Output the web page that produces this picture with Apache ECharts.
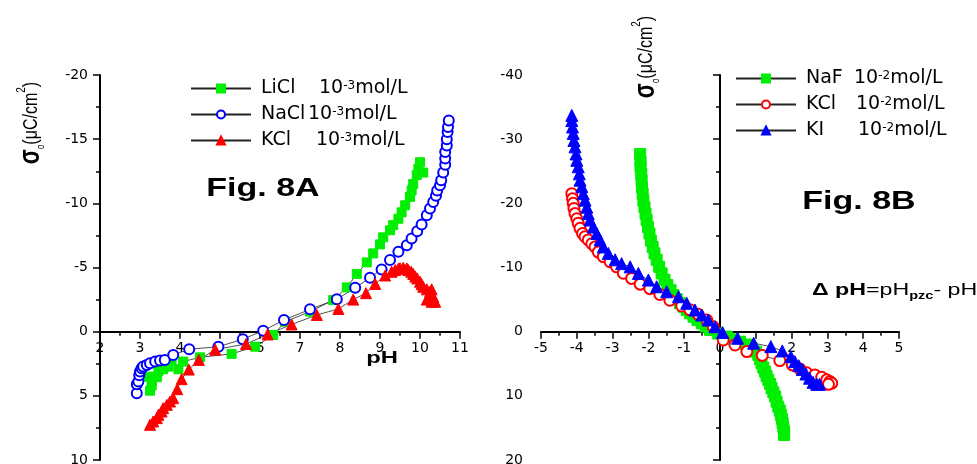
<!DOCTYPE html>
<html>
<head>
<meta charset="utf-8">
<script src="https://cdn.jsdelivr.net/npm/echarts@6/dist/echarts.min.js"></script>
<style>
  html, body { margin: 0; padding: 0; background: #fff; }
  #chart { width: 977px; height: 464px; }
</style>
</head>
<body>
<div id="chart"></div>
<script>
// Fig. 8A : surface charge vs pH (10^-3 mol/L)
var licl = [[3.25,4.6],[3.29,4.2],[3.3,3.9],[3.21,3.5],[3.42,3.55],[3.46,3.1],[3.58,2.93],[3.71,2.72],
  [3.79,2.2],[3.96,2.93],[4.08,2.33],[4.5,2.0],[5.29,1.73],[5.88,1.17],[6.33,0.26],[6.63,-0.78],
  [7.25,-1.56],[7.83,-2.46],[8.17,-3.45],[8.42,-4.5],[8.67,-5.4],[8.83,-6.1],[9.0,-6.8],[9.08,-7.35],
  [9.25,-7.9],[9.33,-8.3],[9.46,-8.8],[9.54,-9.3],[9.63,-9.85],[9.75,-10.5],[9.79,-11.0],[9.83,-11.5],
  [9.92,-12.2],[10.08,-12.4],[9.96,-12.7],[10.0,-13.2]];
var nacl = [[2.92,4.79],[2.92,4.1],[2.96,3.89],[2.98,3.4],[3.0,3.11],[3.04,2.85],[3.08,2.72],[3.17,2.59],
  [3.25,2.46],[3.38,2.33],[3.5,2.25],[3.62,2.2],[3.83,1.81],[4.23,1.37],[4.96,1.17],[5.57,0.59],
  [6.08,-0.08],[6.6,-0.91],[7.25,-1.74],[7.92,-2.52],[8.38,-3.42],[8.75,-4.2],[9.04,-4.85],[9.25,-5.58],
  [9.46,-6.22],[9.67,-6.74],[9.79,-7.26],[9.93,-7.83],[10.04,-8.35],[10.17,-9.07],[10.25,-9.6],
  [10.33,-10.1],[10.4,-10.6],[10.43,-11.0],[10.5,-11.4],[10.53,-11.8],[10.58,-12.4],[10.63,-13.0],
  [10.63,-13.5],[10.63,-14.0],[10.67,-14.5],[10.67,-15.0],[10.69,-15.55],[10.7,-15.95],[10.72,-16.46]];
var kclA = [[3.25,7.26],[3.33,7.0],[3.42,6.74],[3.46,6.48],[3.54,6.22],[3.58,5.96],[3.67,5.7],[3.75,5.44],
  [3.83,5.18],[3.93,4.48],[4.04,3.7],[4.22,2.95],[4.47,2.2],[4.88,1.4],[5.65,0.96],[6.19,0.22],
  [6.79,-0.56],[7.42,-1.3],[7.96,-1.77],[8.33,-2.5],[8.65,-3.0],[8.88,-3.72],[9.13,-4.38],[9.29,-4.67],
  [9.38,-4.8],[9.46,-4.9],[9.5,-4.95],[9.58,-4.98],[9.67,-4.93],[9.71,-4.8],[9.78,-4.67],[9.83,-4.5],
  [9.88,-4.3],[9.93,-4.15],[10.0,-3.89],[10.04,-3.7],[10.08,-3.5],[10.17,-3.3],[10.25,-3.1],
  [10.29,-3.3],[10.25,-2.72],[10.33,-2.72],[10.17,-2.5],[10.29,-2.33],[10.38,-2.33]];

// Fig. 8B : surface charge vs delta pH (10^-2 mol/L)
var naf = [[-2.23,-27.7],[-2.22,-26.5],[-2.22,-25.7],[-2.2,-24.6],[-2.19,-23.6],[-2.18,-22.5],[-2.16,-21.5],
  [-2.14,-20.4],[-2.11,-19.4],[-2.08,-18.4],[-2.05,-17.4],[-2.01,-16.3],[-1.97,-15.3],[-1.93,-14.2],
  [-1.88,-13.2],[-1.83,-12.2],[-1.77,-11.2],[-1.7,-10.1],[-1.63,-9.08],[-1.55,-8.1],[-1.47,-7.26],
  [-1.38,-6.45],[-1.3,-5.71],[-1.21,-5.05],[-1.12,-4.42],[-1.02,-3.9],[-0.93,-3.37],[-0.84,-2.85],
  [-0.74,-2.33],[-0.63,-1.8],[-0.51,-1.3],[-0.4,-0.8],[-0.28,-0.26],[-0.05,0.3],[0.19,0.78],[0.37,1.2],
  [0.56,1.56],[0.73,2.0],[0.89,2.59],[1.0,3.1],[1.07,3.63],[1.12,4.3],[1.16,4.92],[1.21,5.6],[1.26,6.22],
  [1.3,6.9],[1.35,7.51],[1.4,8.15],[1.44,8.8],[1.49,9.45],[1.54,10.1],[1.58,10.9],[1.63,11.7],
  [1.67,12.3],[1.7,12.95],[1.73,13.6],[1.75,14.25],[1.77,14.9],[1.79,15.55],[1.79,16.1]];
var kclB = [[-4.14,-21.5],[-4.12,-20.7],[-4.1,-20.0],[-4.08,-19.2],[-4.05,-18.4],[-4.0,-17.6],[-3.96,-16.9],
  [-3.91,-16.1],[-3.84,-15.3],[-3.77,-14.8],[-3.68,-14.3],[-3.58,-13.7],[-3.49,-13.2],[-3.4,-12.4],
  [-3.26,-11.7],[-3.07,-10.9],[-2.89,-10.1],[-2.7,-9.1],[-2.47,-8.3],[-2.23,-7.4],[-1.96,-6.7],
  [-1.68,-5.8],[-1.4,-4.9],[-1.07,-4.0],[-0.84,-3.4],[-0.61,-2.7],[-0.37,-1.82],[-0.19,-0.78],
  [0.09,1.29],[0.42,2.07],[0.75,3.11],[1.18,3.7],[1.67,4.5],[2.02,5.18],[2.23,5.8],[2.42,6.4],
  [2.65,6.74],[2.84,7.1],[2.98,7.51],[3.07,7.77],[3.12,8.03],[3.03,8.2]];
var ki = [[-4.14,-33.7],[-4.14,-32.9],[-4.12,-31.9],[-4.1,-30.9],[-4.08,-29.8],[-4.05,-28.8],[-4.02,-27.7],
  [-4.0,-26.7],[-3.96,-25.7],[-3.93,-24.6],[-3.91,-23.6],[-3.86,-22.6],[-3.82,-21.5],[-3.77,-20.5],
  [-3.72,-19.4],[-3.68,-18.4],[-3.63,-17.4],[-3.54,-16.3],[-3.44,-15.3],[-3.35,-14.3],[-3.26,-13.2],
  [-3.12,-12.2],[-2.93,-11.2],[-2.75,-10.6],[-2.51,-10.1],[-2.28,-9.08],[-2.0,-8.04],[-1.77,-7.0],
  [-1.49,-6.22],[-1.16,-5.44],[-0.93,-4.42],[-0.7,-3.37],[-0.51,-2.6],[-0.33,-1.82],[-0.14,-0.78],
  [0.07,0.13],[0.49,1.03],[0.94,1.8],[1.42,2.33],[1.74,3.0],[1.98,3.9],[2.09,4.67],[2.2,5.3],
  [2.3,5.9],[2.4,6.6],[2.5,7.25],[2.6,7.9],[2.7,8.2],[2.78,8.2]];

var namesA = ['LiCl', 'NaCl', 'KCl'];
var namesB = ['NaF', 'KCl', 'KI'];
var expA = '-3', expB = '-2';

var FONT = 'Liberation Sans';
var LABEL_FONT = 'DejaVu Sans';

// the x axes sit on sigma = 0, which is 2/3 of the way down both grids (385px tall)
var ZERO_OFFSET = -385 / 3;

function valueAxis(gridIndex, min, max, interval, opts) {
  return {
    gridIndex: gridIndex,
    type: 'value',
    min: min,
    max: max,
    interval: interval,
    inverse: !!opts.inverse,
    offset: opts.offset || 0,
    axisLine: { show: true, onZero: opts.onZero, lineStyle: { color: '#000', width: 2 } },
    axisTick: { show: true, inside: false, length: 7, lineStyle: { color: '#000', width: 1.5 } },
    minorTick: { show: true, splitNumber: 2, length: 4, lineStyle: { color: '#000', width: 1.5 } },
    axisLabel: { show: true, color: '#000', fontSize: 14, fontFamily: LABEL_FONT, margin: opts.margin,
      showMinLabel: true, showMaxLabel: true, hideOverlap: false },
    splitLine: { show: false },
    minorSplitLine: { show: false }
  };
}

function lineSeries(name, xi, yi, data, symbol, size, color) {
  return {
    name: name,
    type: 'line',
    xAxisIndex: xi,
    yAxisIndex: yi,
    data: data,
    symbol: symbol,
    symbolSize: size,
    showAllSymbol: true,
    lineStyle: { color: '#222', width: 0.8 },
    itemStyle: { color: color, borderColor: color, borderWidth: 1 },
    emphasis: { disabled: true },
    animation: false
  };
}

var LEG_FONT = 'DejaVu Sans';
function nameStyle(w) {
  return { fontSize: 19, fontFamily: LEG_FONT, color: '#000', lineHeight: 18, width: w, padding: [0, 0, 0, 5] };
}
var legendRich = {
  b: { fontSize: 19, fontFamily: LEG_FONT, color: '#000', lineHeight: 18 },
  s: { fontSize: 12, fontFamily: LEG_FONT, color: '#000', lineHeight: 12, verticalAlign: 'top' },
  nA0: nameStyle(58), nA1: nameStyle(47), nA2: nameStyle(55),
  nB0: nameStyle(48), nB1: nameStyle(50), nB2: nameStyle(52)
};

function legendFormatter(name) {
  var p = name.split(':');
  var list = p[0] === 'A' ? namesA : namesB;
  var exp = p[0] === 'A' ? expA : expB;
  var i = list.indexOf(p[1]);
  return '{n' + p[0] + i + '|' + p[1] + '}{b|10}{s|' + exp + '}{b|mol/L}';
}

function legendBox(names, panel, left, top) {
  return {
    show: true,
    orient: 'vertical',
    left: left,
    top: top,
    padding: 0,
    itemGap: 7,
    itemWidth: 60,
    itemHeight: 10,
    selectedMode: false,
    data: names.map(function (n) { return panel + ':' + n; }),
    formatter: legendFormatter,
    textStyle: { color: '#000', fontSize: 19, fontFamily: LEG_FONT, rich: legendRich }
  };
}

var titleRich = {
  s: { fontSize: 22, fontWeight: 'bold', fontFamily: FONT, fill: '#000', lineHeight: 24 },
  o: { fontSize: 8, fontFamily: FONT, fill: '#000', lineHeight: 8, verticalAlign: 'bottom' },
  t: { fontSize: 16, fontFamily: FONT, fill: '#000', lineHeight: 24 },
  p: { fontSize: 10, fontFamily: FONT, fill: '#000', lineHeight: 10, verticalAlign: 'top' }
};
var titleText = '{s|σ}{o|o}{t|(μC/cm}{p|2}{t|)}';

var chart = echarts.init(document.getElementById('chart'));
var option = {
  animation: false,
  backgroundColor: '#fff',
  grid: [
    { left: 100, top: 75, width: 360, height: 385, containLabel: false, outerBoundsMode: 'none' },
    { left: 541, top: 75, width: 358, height: 385, containLabel: false, outerBoundsMode: 'none' }
  ],
  xAxis: [
    valueAxis(0, 2, 11, 1, { onZero: false, offset: ZERO_OFFSET, margin: 10 }),
    valueAxis(1, -5, 5, 1, { onZero: false, offset: ZERO_OFFSET, margin: 10 })
  ],
  yAxis: [
    valueAxis(0, -20, 10, 5, { onZero: false, margin: 12, inverse: true }),
    valueAxis(1, -40, 20, 10, { onZero: true, margin: 18, inverse: true })
  ],
  legend: [
    legendBox(namesA, 'A', 190, 79),
    legendBox(namesB, 'B', 735, 69)
  ],
  series: [
    lineSeries('A:LiCl', 0, 0, licl, 'rect', 9, '#00ee00'),
    lineSeries('A:NaCl', 0, 0, nacl, 'emptyCircle', 10, '#0000ff'),
    lineSeries('A:KCl', 0, 0, kclA, 'triangle', 11, '#ff0000'),
    lineSeries('B:NaF', 1, 1, naf, 'rect', 11, '#00ee00'),
    lineSeries('B:KCl', 1, 1, kclB, 'emptyCircle', 11, '#ff0000'),
    lineSeries('B:KI', 1, 1, ki, 'triangle', 12, '#0000ff')
  ],
  graphic: [
    { type: 'text', x: 263, y: 189, scaleX: 1.36, silent: true,
      style: { text: 'Fig. 8A', fontSize: 25, fontWeight: 'bold', fontFamily: FONT, fill: '#000',
        align: 'center', verticalAlign: 'middle' } },
    { type: 'text', x: 859, y: 202, scaleX: 1.36, silent: true,
      style: { text: 'Fig. 8B', fontSize: 25, fontWeight: 'bold', fontFamily: FONT, fill: '#000',
        align: 'center', verticalAlign: 'middle' } },
    { type: 'text', x: 382, y: 358, scaleX: 1.4, silent: true,
      style: { text: 'pH', fontSize: 17, fontWeight: 'bold', fontFamily: FONT, fill: '#000',
        align: 'center', verticalAlign: 'middle' } },
    { type: 'text', x: 812, y: 291, scaleX: 1.45, silent: true,
      style: { text: '{b|Δ pH}{r|=pH}{s|pzc}{r|- pH}', align: 'left', verticalAlign: 'middle',
        rich: {
          b: { fontSize: 16, fontWeight: 'bold', fontFamily: FONT, fill: '#000', lineHeight: 20 },
          r: { fontSize: 16, fontFamily: FONT, fill: '#000', lineHeight: 20 },
          s: { fontSize: 10, fontWeight: 'bold', fontFamily: FONT, fill: '#000', lineHeight: 10, verticalAlign: 'bottom' }
        } } },
    { type: 'text', x: 31, y: 123, rotation: Math.PI / 2, scaleY: 1.3, silent: true,
      style: { text: titleText, rich: titleRich, align: 'center', verticalAlign: 'middle' } },
    { type: 'text', x: 646, y: 57, rotation: Math.PI / 2, scaleY: 1.3, silent: true,
      style: { text: titleText, rich: titleRich, align: 'center', verticalAlign: 'middle' } }
  ]
};
chart.setOption(option);
</script>
</body>
</html>
